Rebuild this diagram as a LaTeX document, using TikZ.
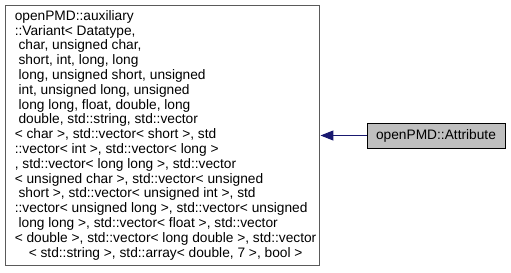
\documentclass[tikz,border=0pt]{standalone}
\usepackage{fontspec}
\setmainfont{Liberation Sans}
\usetikzlibrary{arrows.meta}
\definecolor{edgeblue}{HTML}{191970}
\definecolor{nodegray}{HTML}{BFBFBF}
\definecolor{framegray}{HTML}{5A5A5A}
\begin{document}
\begin{tikzpicture}[x=0.75pt,y=-0.75pt,
  basebox/.style={draw=framegray,line width=1.1pt,fill=white},
  classbox/.style={draw=black,line width=0.75pt,fill=nodegray,minimum width=138*0.75pt,minimum height=25*0.75pt,inner sep=0pt,font=\fontsize{10.3pt}{12pt}\selectfont},
  labeltext/.style={align=left,inner sep=0pt,font=\fontsize{10.3pt}{11.1pt}\selectfont},
  inherit/.style={draw=edgeblue,line width=0.75pt,-{Triangle[length=13*0.75pt,width=10*0.75pt]}}]
\useasboundingbox (0,0) rectangle (511,272);
% base class box with the long template label
\node[basebox,minimum width=314.5*0.75pt,minimum height=260.5*0.75pt,anchor=north west,inner sep=0pt] (base) at (4.5,4.5) {};
\node[labeltext,anchor=north west] (label) at (14.5,10) {%
openPMD::auxiliary\\
::Variant< Datatype,\\
\ char, unsigned char,\\
\ short, int, long, long\\
\ long, unsigned short, unsigned\\
\ int, unsigned long, unsigned\\
\ long long, float, double, long\\
\ double, std::string, std::vector\\
< char >, std::vector< short >, std\\
::vector< int >, std::vector< long >\\
, std::vector< long long >, std::vector\\
< unsigned char >, std::vector< unsigned\\
\ short >, std::vector< unsigned int >, std\\
::vector< unsigned long >, std::vector< unsigned\\
\ long long >, std::vector< float >, std::vector\\
< double >, std::vector< long double >, std::vector\\
\hspace*{10.5pt}< std::string >, std::array< double, 7 >, bool >};
% derived class
\node[classbox] (attr) at (436,135.5) {openPMD::Attribute};
\draw[inherit] (attr.west) -- (base.east |- attr.west);
\end{tikzpicture}
\end{document}
